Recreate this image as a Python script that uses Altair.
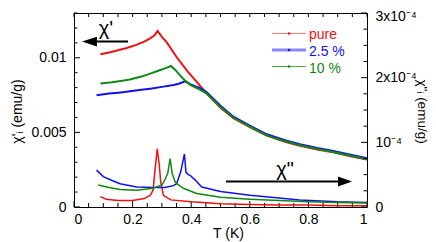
import altair as alt
import pandas as pd

# ---------------- data ----------------
series_names = ["pure", "2.5 %", "10 %"]
series_colors = ["#ee1111", "#1111ee", "#118811"]

# chi' (left axis, emu/g)
red_re_T = [0.09, 0.12, 0.15, 0.18, 0.21, 0.24, 0.26, 0.275, 0.285, 0.30, 0.316, 0.35, 0.389, 0.419,
            0.453, 0.50, 0.544, 0.60, 0.658, 0.72, 0.771, 0.83, 0.885, 0.94, 1.0]
red_re_V = [0.01023, 0.01035, 0.0105, 0.01065, 0.01085, 0.01108, 0.0113, 0.0115, 0.0118, 0.0114,
            0.01105, 0.01005, 0.00905, 0.00838, 0.0076, 0.00665, 0.00595, 0.00535, 0.00478, 0.00437,
            0.00411, 0.00386, 0.00366, 0.00342, 0.00318]
blue_re_T = [0.077, 0.12, 0.16, 0.191, 0.23, 0.26, 0.30, 0.34, 0.36, 0.379, 0.40, 0.43, 0.453, 0.50,
             0.544, 0.60, 0.658, 0.72, 0.771, 0.83, 0.885, 0.94, 1.0]
blue_re_V = [0.00749, 0.0076, 0.00768, 0.00775, 0.00785, 0.00793, 0.00805, 0.00818, 0.00828, 0.00842,
             0.0082, 0.00797, 0.00768, 0.00678, 0.00605, 0.00545, 0.00487, 0.00447, 0.00421, 0.00396,
             0.00376, 0.00352, 0.00327]
green_re_T = [0.09, 0.13, 0.17, 0.191, 0.23, 0.26, 0.29, 0.315, 0.331, 0.345, 0.362, 0.38, 0.40, 0.43,
              0.453, 0.50, 0.544, 0.60, 0.658, 0.72, 0.771, 0.83, 0.885, 0.94, 1.0]
green_re_V = [0.00827, 0.00836, 0.00847, 0.00854, 0.00874, 0.00894, 0.00915, 0.00932, 0.00945, 0.0092,
              0.00882, 0.00845, 0.00815, 0.00787, 0.0076, 0.0067, 0.00598, 0.00538, 0.0048, 0.0044,
              0.00414, 0.00389, 0.00369, 0.00345, 0.0032]

# chi'' (right axis, in units of 1e-4 emu/g)
red_im_T = [0.09, 0.11, 0.15, 0.20, 0.24, 0.26, 0.27, 0.276, 0.284, 0.291, 0.296, 0.305, 0.33, 0.40,
            0.50, 0.60, 0.70, 0.80, 0.90, 1.0]
red_im_V = [0.16, 0.12, 0.10, 0.10, 0.13, 0.18, 0.26, 0.55, 0.90, 0.65, 0.39, 0.18, 0.11, 0.08,
            0.05, 0.04, 0.03, 0.03, 0.02, 0.02]
blue_im_T = [0.077, 0.10, 0.13, 0.157, 0.214, 0.27, 0.31, 0.34, 0.35, 0.364, 0.377, 0.382, 0.39, 0.396,
             0.413, 0.436, 0.50, 0.60, 0.70, 0.77, 0.90, 1.0]
blue_im_V = [0.57, 0.47, 0.41, 0.36, 0.31, 0.30, 0.30, 0.33, 0.36, 0.54, 0.82, 0.54, 0.50, 0.49,
             0.42, 0.31, 0.24, 0.18, 0.14, 0.11, 0.08, 0.07]
green_im_T = [0.083, 0.12, 0.157, 0.214, 0.27, 0.30, 0.31, 0.32, 0.328, 0.335, 0.345, 0.36, 0.373, 0.419,
              0.50, 0.60, 0.70, 0.80, 0.90, 1.0]
green_im_V = [0.34, 0.30, 0.27, 0.26, 0.29, 0.34, 0.42, 0.52, 0.75, 0.52, 0.39, 0.33, 0.29, 0.21,
              0.15, 0.12, 0.10, 0.08, 0.07, 0.06]

# axis ticks / labels
x_labels = [0, 0.2, 0.4, 0.6, 0.8, 1.0]
x_minor = [0.05, 0.1, 0.15, 0.25, 0.3, 0.35, 0.45, 0.5, 0.55, 0.65, 0.7, 0.75, 0.85, 0.9, 0.95]
yl_labels = [0, 0.005, 0.01]
yl_minor = [0.001, 0.002, 0.003, 0.004, 0.006, 0.007, 0.008, 0.009, 0.011, 0.012, 0.013]
yr_labels = [0, 1, 2, 3]
yr_minor = [0.25, 0.5, 0.75, 1.25, 1.5, 1.75, 2.25, 2.5, 2.75]

FONT = "Liberation Sans"
W, H = 293, 194

x_scale = alt.Scale(domain=[0, 1], nice=False, zero=False)
yl_scale = alt.Scale(domain=[0, 0.013], nice=False)
yr_scale = alt.Scale(domain=[0, 3], nice=False)

x_axis = alt.Axis(values=x_labels, format="~g", title="T (K)", ticks=False, tickSize=0, domain=False,
                  grid=False, labelPadding=5, labelFontSize=14, labelFont=FONT, labelColor="black",
                  titleFont=FONT, titleFontSize=14, titleFontWeight="normal", titleColor="black",
                  titleX=154, titleY=30, titleBaseline="alphabetic", titleAlign="center")
yl_axis = alt.Axis(values=yl_labels, format="~g", title="χ'ᵢ (emu/g)", orient="left", ticks=False,
                   tickSize=0, domain=False, grid=False, labelPadding=8, labelFontSize=14,
                   labelFont=FONT, labelColor="black", titleFont=FONT, titleFontSize=14,
                   titleFontWeight="normal", titleColor="black", titleAngle=270, titleX=-57,
                   titleY=98, titleAlign="center", titleBaseline="middle")
yr_axis = alt.Axis(values=yr_labels, orient="right", ticks=False, tickSize=0, domain=False, grid=False,
                   labelExpr="datum.value == 0 ? '0' : (datum.value == 1 ? '10⁻⁴' : datum.value + 'x10⁻⁴')",
                   labelOffset={"condition": {"test": "datum.value == 3", "value": 3}, "value": 0},
                   labelPadding=8, labelFontSize=14, labelFont=FONT, labelColor="black",
                   title='χ"ᵢ (emu/g)', titleFont=FONT, titleFontSize=13.5, titleFontWeight="normal",
                   titleColor="black", titleAngle=90, titleX=54, titleY=98, titleAlign="center",
                   titleBaseline="middle")


def X():
    return alt.X("T:Q", scale=x_scale, axis=x_axis)


def YL():
    return alt.Y("V:Q", scale=yl_scale, axis=yl_axis)


def YR():
    return alt.Y("V:Q", scale=yr_scale, axis=yr_axis)


def df(T, V):
    return pd.DataFrame({"T": T, "V": V})


one = pd.DataFrame({"k": [0]})

# ---------------- left (chi') group ----------------
re_lines = [
    alt.Chart(df(T, V)).mark_line(color=c, strokeWidth=2).encode(x=X(), y=YL())
    for T, V, c in [(red_re_T, red_re_V, series_colors[0]),
                    (blue_re_T, blue_re_V, series_colors[1]),
                    (green_re_T, green_re_V, series_colors[2])]
]

left_major = alt.Chart(df([0] * 3, yl_labels)).mark_rule(color="black", strokeWidth=1).encode(
    y=YL(), x=alt.value(0), x2=alt.value(6))
left_minor = alt.Chart(df([0] * len(yl_minor), yl_minor)).mark_rule(color="black", strokeWidth=1).encode(
    y=YL(), x=alt.value(0), x2=alt.value(3.5))
bot_major = alt.Chart(df(x_labels, [0] * 6)).mark_rule(color="black", strokeWidth=1).encode(
    x=X(), y=alt.value(H), y2=alt.value(H - 6))
bot_minor = alt.Chart(df(x_minor, [0] * len(x_minor))).mark_rule(color="black", strokeWidth=1).encode(
    x=X(), y=alt.value(H), y2=alt.value(H - 4))
top_all = alt.Chart(df(x_labels + x_minor, [0] * 21)).mark_rule(color="black", strokeWidth=1).encode(
    x=X(), y=alt.value(0), y2=alt.value(4))

# annotations
chi1_text = alt.Chart(one).mark_text(text="χ'", font=FONT, fontSize=20, align="center",
                                     baseline="middle", color="black").encode(
    x=alt.value(32), y=alt.value(16))
chi1_line = alt.Chart(one).mark_rule(color="black", strokeWidth=2).encode(
    x=alt.value(14), x2=alt.value(54), y=alt.value(28.5))
chi1_head = alt.Chart(one).mark_point(shape="M-1,0L1,-0.65L1,0.65Z", filled=True, size=225,
                                      color="black", opacity=1).encode(
    x=alt.value(15.5), y=alt.value(28.5))
chi2_text = alt.Chart(one).mark_text(text='χ"', font=FONT, fontSize=20, align="center",
                                     baseline="middle", color="black").encode(
    x=alt.value(211), y=alt.value(157))
chi2_line = alt.Chart(one).mark_rule(color="black", strokeWidth=2).encode(
    x=alt.value(152), x2=alt.value(268), y=alt.value(168.5))
chi2_head = alt.Chart(one).mark_point(shape="M1,0L-1,-0.7L-1,0.7Z", filled=True, size=196,
                                      color="black", opacity=1).encode(
    x=alt.value(271), y=alt.value(168.5))

# legend
legend_line_colors = ["#ff7777", "#8888ff", "#44aa44"]
legend_line_widths = [1.2, 3, 1.2]
legend_line_y = [20.5, 37, 53.5]
legend_text_y = [25.5, 42.5, 59.5]
legend_parts = []
for name, col, lcol, lw, ly, ty in zip(series_names, series_colors, legend_line_colors,
                                       legend_line_widths, legend_line_y, legend_text_y):
    legend_parts.append(alt.Chart(one).mark_rule(color=lcol, strokeWidth=lw).encode(
        x=alt.value(198), x2=alt.value(232), y=alt.value(ly)))
    legend_parts.append(alt.Chart(one).mark_point(filled=True, size=6, color=col, opacity=1).encode(
        x=alt.value(215), y=alt.value(ly)))
    legend_parts.append(alt.Chart(one).mark_text(text=name, font=FONT, fontSize=14, align="left",
                                                 baseline="alphabetic", color=col).encode(
        x=alt.value(235), y=alt.value(ty)))

left = alt.layer(*re_lines, left_major, left_minor, bot_major, bot_minor, top_all,
                 chi1_line, chi1_head, chi1_text, chi2_line, chi2_head, chi2_text, *legend_parts)

# ---------------- right (chi'') group ----------------
im_lines = [
    alt.Chart(df(T, V)).mark_line(color=c, strokeWidth=1.5).encode(x=X(), y=YR())
    for T, V, c in [(red_im_T, red_im_V, series_colors[0]),
                    (blue_im_T, blue_im_V, series_colors[1]),
                    (green_im_T, green_im_V, series_colors[2])]
]
right_major = alt.Chart(df([0] * 4, yr_labels)).mark_rule(color="black", strokeWidth=1).encode(
    y=YR(), x=alt.value(W), x2=alt.value(W - 6))
right_minor = alt.Chart(df([0] * len(yr_minor), yr_minor)).mark_rule(color="black", strokeWidth=1).encode(
    y=YR(), x=alt.value(W), x2=alt.value(W - 3.5))

right = alt.layer(*im_lines, right_major, right_minor)

chart = alt.layer(left, right).resolve_scale(y="independent").properties(
    width=W, height=H,
    autosize=alt.AutoSizeParams(type="none"),
    padding={"left": 66, "top": 5, "right": 61, "bottom": 35},
    background="white",
).configure_view(stroke="black", strokeWidth=1)

chart.save("out.html", embed_options={"renderer": "svg", "actions": False})
